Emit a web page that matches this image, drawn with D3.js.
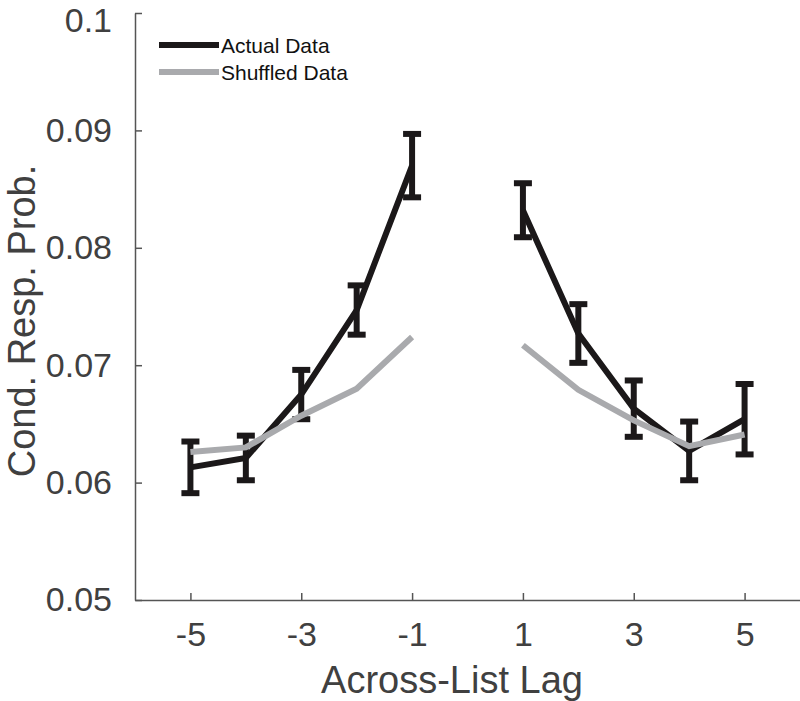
<!DOCTYPE html>
<html>
<head>
<meta charset="utf-8">
<script src="https://cdn.jsdelivr.net/npm/d3@7"></script>
<style>
  html, body { margin: 0; padding: 0; background: #fff; }
  svg { display: block; }
  text { font-family: "Liberation Sans", Arial, Helvetica, sans-serif; }
</style>
</head>
<body>
<svg id="chart" width="800" height="701"></svg>
<script>
// ---- data ----
const lags = [-5, -4, -3, -2, -1, 1, 2, 3, 4, 5];
const actualMean = [0.0613, 0.0621, 0.0675, 0.0747, 0.0870, 0.0832, 0.0727, 0.0663, 0.0627, 0.0654];
const actualErr  = [0.0022, 0.0019, 0.0021, 0.0021, 0.0027, 0.0023, 0.0025, 0.0024, 0.0025, 0.0030];
const shuffledMean = [0.0626, 0.0630, 0.0657, 0.0680, 0.0724, 0.0717, 0.0679, 0.0653, 0.0631, 0.0641];
const xTickValues = [-5, -3, -1, 1, 3, 5];
const yTickValues = [0.05, 0.06, 0.07, 0.08, 0.09, 0.1];
const yTickLabels = ["0.05", "0.06", "0.07", "0.08", "0.09", "0.1"];
const seriesNames = ["Actual Data", "Shuffled Data"];
const xLabel = "Across-List Lag";
const yLabel = "Cond. Resp. Prob.";

// ---- layout ----
const svg = d3.select("#chart");
const colBlack = "#1b1819";
const colGray = "#a9aaad";
const axisCol = "#555555";
const textCol = "#404040";

const x = d3.scaleLinear().domain([-6, 6]).range([135, 800]);
const y = d3.scaleLinear().domain([0.05, 0.1]).range([600, 13]);

// axes
const xAxis = d3.axisBottom(x).tickValues(xTickValues)
  .tickFormat(d => String(d)).tickSizeInner(-7).tickSizeOuter(0).tickPadding(22);
const yAxis = d3.axisLeft(y).tickValues(yTickValues)
  .tickFormat((d, i) => yTickLabels[i]).tickSizeInner(-7).tickSizeOuter(0).tickPadding(23);

const gx = svg.append("g").attr("transform", "translate(0,600)").call(xAxis);
const gy = svg.append("g").attr("transform", "translate(135,0)").call(yAxis);
[gx, gy].forEach(g => {
  g.select(".domain").attr("stroke", axisCol).attr("stroke-width", 1.5);
  g.selectAll(".tick line").attr("stroke", axisCol).attr("stroke-width", 1.5);
  g.selectAll(".tick text").attr("fill", textCol).attr("font-size", 34)
    .attr("font-family", "'Liberation Sans', Arial, Helvetica, sans-serif");
});
// keep the top label inside the picture
gy.selectAll(".tick text").filter((d, i) => i === yTickValues.length - 1).attr("dy", "0.54em");

// axis labels
svg.append("text").attr("x", 452).attr("y", 693).attr("text-anchor", "middle")
  .attr("font-size", 38).attr("fill", textCol).text(xLabel);
svg.append("text").attr("transform", "translate(35,321) rotate(-90)")
  .attr("text-anchor", "middle").attr("font-size", 38).attr("fill", textCol).text(yLabel);

// data
const pts = lags.map((l, i) => ({ lag: l, m: actualMean[i], e: actualErr[i], s: shuffledMean[i] }));
const left = pts.filter(d => d.lag < 0);
const right = pts.filter(d => d.lag > 0);

const lineA = d3.line().x(d => x(d.lag)).y(d => y(d.m));
const lineS = d3.line().x(d => x(d.lag)).y(d => y(d.s));

const plot = svg.append("g");
// actual data lines
[left, right].forEach(seg => {
  plot.append("path").datum(seg).attr("d", lineA).attr("fill", "none")
    .attr("stroke", colBlack).attr("stroke-width", 6).attr("stroke-linejoin", "miter");
});
// error bars
const capW = 9;
const eb = plot.append("g").selectAll("g").data(pts).join("g");
eb.append("line").attr("x1", d => x(d.lag)).attr("x2", d => x(d.lag))
  .attr("y1", d => y(d.m + d.e)).attr("y2", d => y(d.m - d.e))
  .attr("stroke", colBlack).attr("stroke-width", 6);
eb.append("line").attr("x1", d => x(d.lag) - capW).attr("x2", d => x(d.lag) + capW)
  .attr("y1", d => y(d.m + d.e)).attr("y2", d => y(d.m + d.e))
  .attr("stroke", colBlack).attr("stroke-width", 6);
eb.append("line").attr("x1", d => x(d.lag) - capW).attr("x2", d => x(d.lag) + capW)
  .attr("y1", d => y(d.m - d.e)).attr("y2", d => y(d.m - d.e))
  .attr("stroke", colBlack).attr("stroke-width", 6);
// shuffled lines
[left, right].forEach(seg => {
  plot.append("path").datum(seg).attr("d", lineS).attr("fill", "none")
    .attr("stroke", colGray).attr("stroke-width", 6).attr("stroke-linejoin", "miter");
});

// legend
const legend = svg.append("g");
[colBlack, colGray].forEach((c, i) => {
  const ly = 45 + i * 27;
  legend.append("line").attr("x1", 159).attr("x2", 219).attr("y1", ly).attr("y2", ly)
    .attr("stroke", c).attr("stroke-width", 6);
  legend.append("text").attr("x", 221).attr("y", ly).attr("dy", "0.36em")
    .attr("font-size", 21).attr("fill", "#111").text(seriesNames[i]);
});
</script>
</body>
</html>
